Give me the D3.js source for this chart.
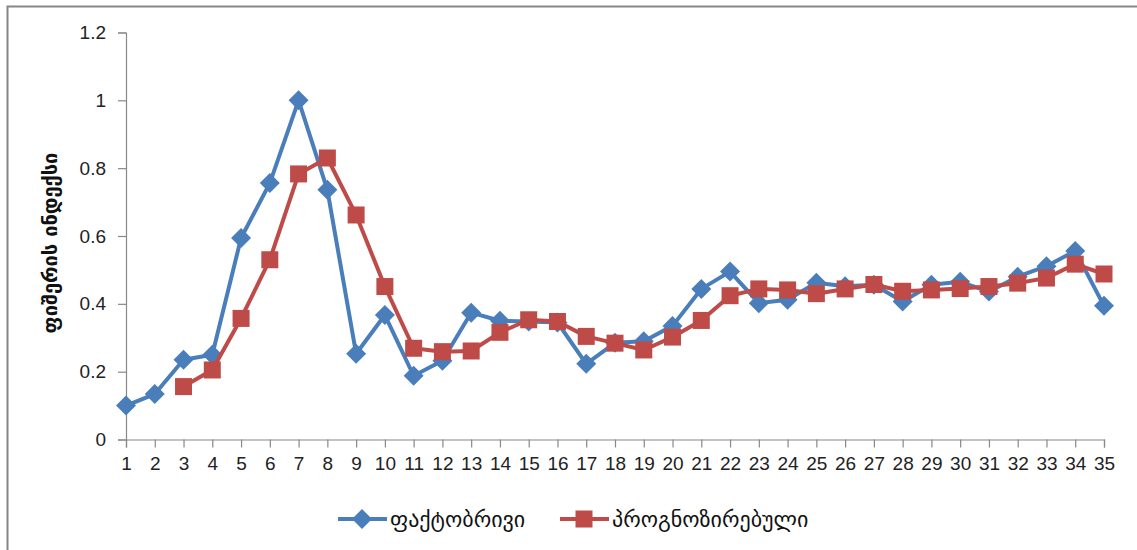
<!DOCTYPE html>
<html><head><meta charset="utf-8">
<script src="https://cdn.jsdelivr.net/npm/d3@7"></script>
<style>body{margin:0;background:#fff}svg{display:block}</style>
</head><body>
<svg id="c" width="1137" height="550"></svg>
<script>
const categories = d3.range(1, 36).map(String);
const actual = [0.10,0.134,0.235,0.25,0.594,0.756,1.0,0.736,0.253,0.367,0.188,0.232,0.374,0.350,0.348,0.345,0.223,0.285,0.29,0.335,0.444,0.495,0.402,0.412,0.462,0.452,0.456,0.407,0.456,0.465,0.436,0.48,0.511,0.556,0.394];
const forecast = [null,null,0.156,0.205,0.357,0.53,0.783,0.83,0.662,0.451,0.269,0.259,0.261,0.316,0.353,0.348,0.304,0.284,0.264,0.302,0.351,0.424,0.444,0.441,0.43,0.444,0.457,0.437,0.441,0.445,0.451,0.461,0.476,0.517,0.488];
const yTicks = [0,0.2,0.4,0.6,0.8,1,1.2];
const yTickLabels = ["0","0.2","0.4","0.6","0.8","1","1.2"];
const seriesNames = ["ფაქტობრივი","პროგნოზირებული"];
const yTitle = "ფიშერის ინდექსი";

const svg = d3.select("#c");
const blue = "#4A7EBB", red = "#BE4B48";
const font = "Liberation Sans, Arial, sans-serif";

svg.append("rect").attr("x",7.5).attr("y",6.5).attr("width",1300).attr("height",700)
  .attr("fill","none").attr("stroke","#868686").attr("stroke-width",2);

const x = d3.scalePoint().domain(categories).range([126,1104]);
const y = d3.scaleLinear().domain([0,1.2]).range([439.5,32.5]);

const yAxis = svg.append("g").attr("transform","translate(126,0)")
  .call(d3.axisLeft(y).tickValues(yTicks).tickFormat((d,i)=>yTickLabels[i]).tickSizeOuter(0).tickSize(8).tickPadding(12));
const xAxis = svg.append("g").attr("transform","translate(0,439.5)")
  .call(d3.axisBottom(x).tickSizeOuter(0).tickSize(8).tickPadding(9));
[yAxis,xAxis].forEach(a=>{
  a.selectAll("path,line").attr("stroke","#888").attr("stroke-width",1.2);
  a.selectAll("text").attr("font-family",font).attr("font-size",19).attr("fill","#222");
});

function drawSeries(vals, color, shape){
  const pts = vals.map((v,i)=>({c:categories[i],v})).filter(d=>d.v!=null);
  svg.append("path").datum(pts)
    .attr("fill","none").attr("stroke",color).attr("stroke-width",4).attr("stroke-linejoin","round")
    .attr("d", d3.line().x(d=>x(d.c)).y(d=>y(d.v)));
  svg.append("g").selectAll("path").data(pts).join("path")
    .attr("transform",d=>`translate(${x(d.c)},${y(d.v)})`)
    .attr("d", shape).attr("fill",color);
}
const diamond = "M0,-10L10,0L0,10L-10,0Z";
const square = "M-8.5,-8.5H8.5V8.5H-8.5Z";
drawSeries(actual, blue, diamond);
drawSeries(forecast, red, square);

// y title
svg.append("text").attr("transform","translate(50,243) rotate(-90)")
  .attr("text-anchor","middle").attr("dominant-baseline","central")
  .attr("font-family","DejaVu Sans, sans-serif").attr("font-weight","bold").attr("font-size",20)
  .attr("fill","#111").text(yTitle);

// legend
const leg = [{x:338, name:seriesNames[0], color:blue, shape:diamond},
             {x:560, name:seriesNames[1], color:red, shape:square}];
leg.forEach(l=>{
  const g = svg.append("g");
  g.append("line").attr("x1",l.x).attr("x2",l.x+49).attr("y1",519).attr("y2",519)
    .attr("stroke",l.color).attr("stroke-width",4);
  g.append("path").attr("transform",`translate(${l.x+24},519)`).attr("d",l.shape).attr("fill",l.color);
  g.append("text").attr("x",l.x+52).attr("y",519).attr("dominant-baseline","central")
    .attr("font-family","DejaVu Sans, sans-serif").attr("font-size",22).attr("fill","#111").text(l.name);
});
</script>
</body></html>
